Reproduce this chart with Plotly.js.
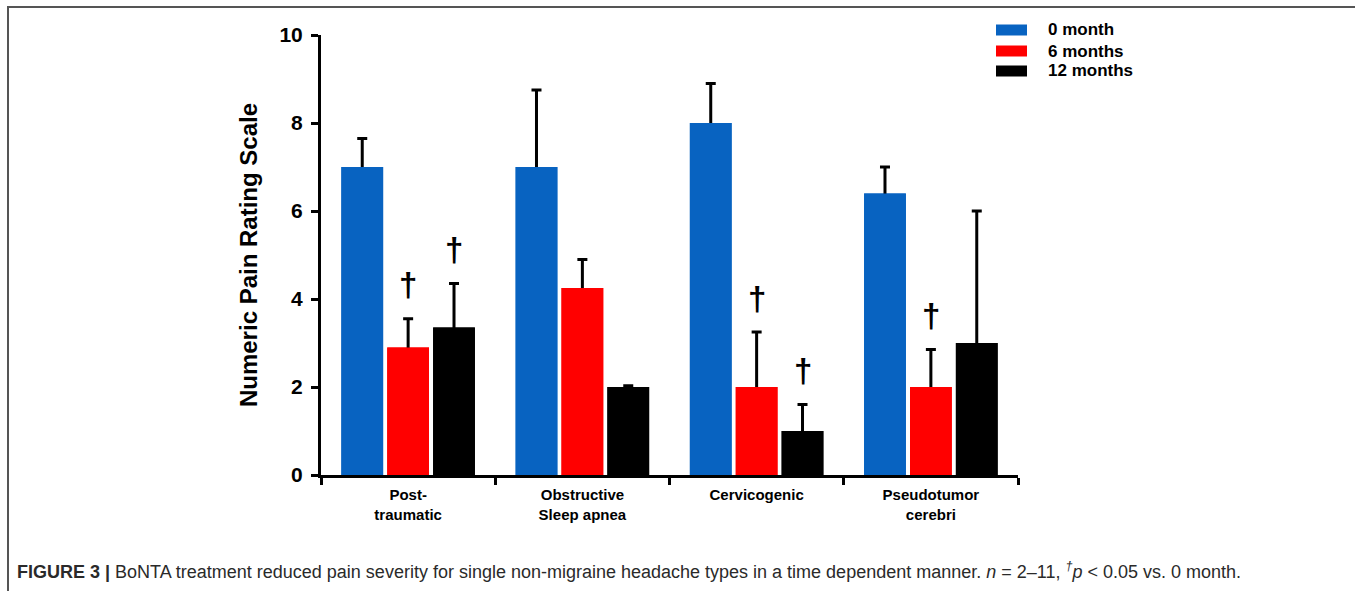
<!DOCTYPE html>
<html><head><meta charset="utf-8">
<script src="https://cdn.plot.ly/plotly-3.0.1.min.js"></script>
<style>
html,body{margin:0;padding:0;background:#fff;}
#frame{position:absolute;left:7px;top:6px;width:1348px;height:585px;border-top:2px solid #555;border-left:2px solid #555;pointer-events:none;}
#chart{width:1355px;height:591px;}
</style></head>
<body>
<div id="chart"></div>
<div id="frame"></div>
<script>
// ---- data ----
const categories = ["Post-<br>traumatic", "Obstructive<br>Sleep apnea", "Cervicogenic", "Pseudotumor<br>cerebri"];
const seriesNames = ["0 month", "6 months", "12 months"];
const seriesColors = ["#0863C1", "#FF0000", "#000000"];
const month0 = [7.0, 7.0, 8.0, 6.4];
const month0Err = [0.65, 1.75, 0.9, 0.6];
const month6 = [2.9, 4.25, 2.0, 2.0];
const month6Err = [0.65, 0.65, 1.25, 0.85];
const month12 = [3.35, 2.0, 1.0, 3.0];
const month12Err = [1.0, 0.03, 0.6, 3.0];
// significance (dagger) flags per series
const sig6 = [true, false, true, true];
const sig12 = [true, false, true, false];
const yTicks = [0, 2, 4, 6, 8, 10];
const caption = "<b>FIGURE 3 |</b> BoNTA treatment reduced pain severity for single non-migraine headache types in a time dependent manner. <i>n</i> = 2–11, <sup><i>†</i></sup><i>p</i> &lt; 0.05 vs. 0 month.";

// ---- layout constants ----
const W = 1355, H = 591;
const L = 321, R = 1018, T = 35, B = 475;
const bargap = 0.21, bargroupgap = 0.09;
const hiddenDepth = 0.25; // lower end of error bar tucked inside the bar (hidden)
const font = "Liberation Sans, Arial, sans-serif";
const px2x = p => (p - L) / (R - L);
const px2y = p => (B - p) / (B - T);

const values = [month0, month6, month12];
const errs = [month0Err, month6Err, month12Err];
// error-bar carrying bars (drawn first)
const errTraces = values.map((v, i) => ({
  type: "bar", name: seriesNames[i], x: categories, y: v, offsetgroup: "g" + i,
  marker: {color: seriesColors[i], line: {width: 0}},
  error_y: {type: "data", symmetric: false, array: errs[i], arrayminus: v.map(() => hiddenDepth),
            color: "#000", thickness: 3, width: 5},
  showlegend: false, hoverinfo: "skip"
}));
// same bars drawn on top so the lower end of each error bar is hidden
const barTraces = values.map((v, i) => ({
  type: "bar", name: seriesNames[i], x: categories, y: v, offsetgroup: "g" + i,
  marker: {color: seriesColors[i], line: {width: 0}},
  showlegend: false, hoverinfo: "skip"
}));

// dagger annotations
const catW = (R - L) / categories.length;
const slot = catW * (1 - bargap) / 3;
const annotations = [];
[[sig6, 1], [sig12, 2]].forEach(([flags, si]) => {
  flags.forEach((f, ci) => {
    if (!f) return;
    annotations.push({
      x: categories[ci], y: values[si][ci] + errs[si][ci], xref: "x", yref: "y",
      text: "<b>†</b>", showarrow: false, xshift: (si - 1) * slot, yshift: 34,
      yanchor: "middle", font: {family: font, size: 33, color: "#000"}
    });
  });
});

// custom legend
const legY = [30, 51, 71];
const shapes = [];
seriesNames.forEach((n, i) => {
  shapes.push({type: "rect", xref: "paper", yref: "paper",
    x0: px2x(996), x1: px2x(1027), y0: px2y(legY[i] - 5.5), y1: px2y(legY[i] + 5.5),
    fillcolor: seriesColors[i], line: {width: 0}});
  annotations.push({xref: "paper", yref: "paper", x: px2x(1046), y: px2y(legY[i]),
    xanchor: "left", yanchor: "middle", showarrow: false, text: "<b>" + n + "</b>",
    font: {family: font, size: 17, color: "#000"}});
});

// caption
annotations.push({xref: "paper", yref: "paper", x: px2x(15), y: px2y(570),
  xanchor: "left", yanchor: "middle", showarrow: false, text: caption,
  font: {family: font, size: 18, color: "#2a2a2a"}});

const layout = {
  width: W, height: H,
  margin: {l: L, r: W - R, t: T, b: H - B, pad: 0},
  paper_bgcolor: "#fff", plot_bgcolor: "#fff",
  barmode: "group", bargap: bargap, bargroupgap: bargroupgap,
  font: {family: font, color: "#000"},
  xaxis: {type: "category", tickson: "boundaries", ticks: "outside", ticklen: 7, tickwidth: 3,
    tickcolor: "#000", showline: true, linewidth: 3, linecolor: "#000", showgrid: false,
    zeroline: false, ticklabelstandoff: 4,
    tickfont: {family: font, size: 15, weight: "bold", color: "#000"}, fixedrange: true},
  yaxis: {range: [0, 10], tickvals: yTicks, ticks: "outside", ticklen: 7, tickwidth: 3,
    tickcolor: "#000", showline: true, linewidth: 3, linecolor: "#000", showgrid: false,
    zeroline: false, ticklabelstandoff: 4,
    tickfont: {family: font, size: 21, weight: "bold", color: "#000"},
    title: {text: "Numeric Pain Rating Scale", standoff: 16,
      font: {family: font, size: 24, weight: "bold", color: "#000"}}, fixedrange: true},
  shapes: shapes, annotations: annotations, showlegend: false
};
Plotly.newPlot("chart", errTraces.concat(barTraces), layout, {staticPlot: true, displayModeBar: false});
</script>
</body></html>
